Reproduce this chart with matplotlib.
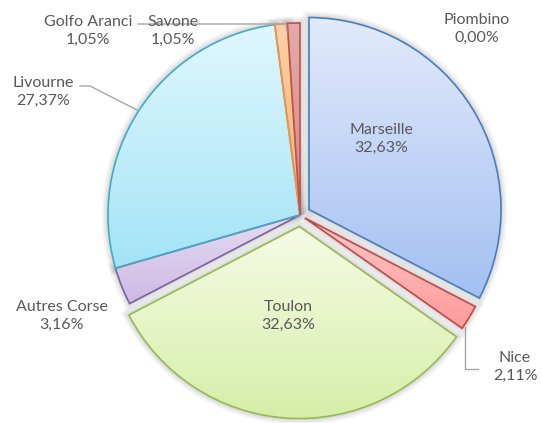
import numpy as np
import matplotlib
matplotlib.use("Agg")
import matplotlib.pyplot as plt
from matplotlib.colors import LinearSegmentedColormap

labels = ["Marseille", "Nice", "Toulon", "Autres Corse", "Livourne",
          "Golfo Aranci", "Savone", "Piombino"]
values = [32.63, 2.11, 32.63, 3.16, 27.37, 1.05, 1.05, 0.00]
explode_frac = [0.055, 0.03, 0.06, 0, 0, 0, 0, 0]

top_colors = ["#e2eafb", "#ffc8c8", "#f6fbe6", "#e6dcf2", "#e0f7fe", "#fcd0a8", "#e4aaa8", "#cccccc"]
bot_colors = ["#a3c0f2", "#ff9a9a", "#d6eea8", "#cbb9e4", "#a3e4f6", "#f8b070", "#d08a88", "#aaaaaa"]
edge_colors = ["#4a7ebb", "#be4b48", "#98b954", "#7d60a0", "#46aac5", "#f69240", "#c0504d", "#888888"]

W, H = 542, 423
fig = plt.figure(figsize=(W / 100, H / 100), dpi=100)
ax = fig.add_axes([0, 0, 1, 1])

cx, cy, R = 300, H - 215, 192

nz = [v if v > 0 else 1e-9 for v in values]
explode = [e * R for e in explode_frac]
wedges, _ = ax.pie(nz, explode=explode, startangle=90, counterclock=False,
                   center=(cx, cy), radius=R, frame=True,
                   wedgeprops=dict(linewidth=1.2))
ax.set_xlim(0, W)
ax.set_ylim(0, H)
ax.set_aspect("equal")
ax.axis("off")

for i, w in enumerate(wedges):
    if values[i] <= 0:
        w.set_visible(False)
        continue
    for lw, a in [(9, 0.04), (6, 0.05), (3, 0.06)]:
        sh = matplotlib.patches.Wedge(w.center, w.r, w.theta1, w.theta2,
                                      facecolor="none", edgecolor="#000000",
                                      linewidth=lw, alpha=a, zorder=0.5)
        ax.add_patch(sh)
    w.set_facecolor("none")
    w.set_edgecolor(edge_colors[i])
    w.set_zorder(3)
    verts = w.get_path().vertices
    x0, x1 = verts[:, 0].min(), verts[:, 0].max()
    y0, y1 = verts[:, 1].min(), verts[:, 1].max()
    cmap = LinearSegmentedColormap.from_list("g%d" % i, [bot_colors[i], top_colors[i]])
    grad = np.linspace(0, 1, 256).reshape(-1, 1)
    im = ax.imshow(grad, cmap=cmap, origin="lower", extent=(x0, x1, y0, y1),
                   aspect="auto", zorder=2, interpolation="bilinear")
    im.set_clip_path(w)

ax.set_xlim(0, W)
ax.set_ylim(0, H)

txt = dict(fontsize=11.5, color="#595959", ha="center", va="center",
           family=["Lato", "DejaVu Sans"], linespacing=1.3, zorder=5)

def fmt(v):
    return ("%.2f%%" % v).replace(".", ",")

label_pos = [(381, 139), (515, 367), (288, 316), (62, 316), (43, 92),
             (88, 31), (173, 31), (477, 29)]
for lab, v, (px, py) in zip(labels, values, label_pos):
    ax.text(px, H - py, lab + "\n" + fmt(v), **txt)

lc = "#a6a6a6"
leaders = [
    [(80, 86), (90, 86), (137, 110)],
    [(138, 24), (286, 24), (287, 32)],
    [(465, 327), (465, 369), (478, 369)],
]
for pts in leaders:
    xs = [p[0] for p in pts]
    ys = [H - p[1] for p in pts]
    ax.plot(xs, ys, color=lc, linewidth=1, zorder=4)

fig.savefig("out.png", dpi=100)
